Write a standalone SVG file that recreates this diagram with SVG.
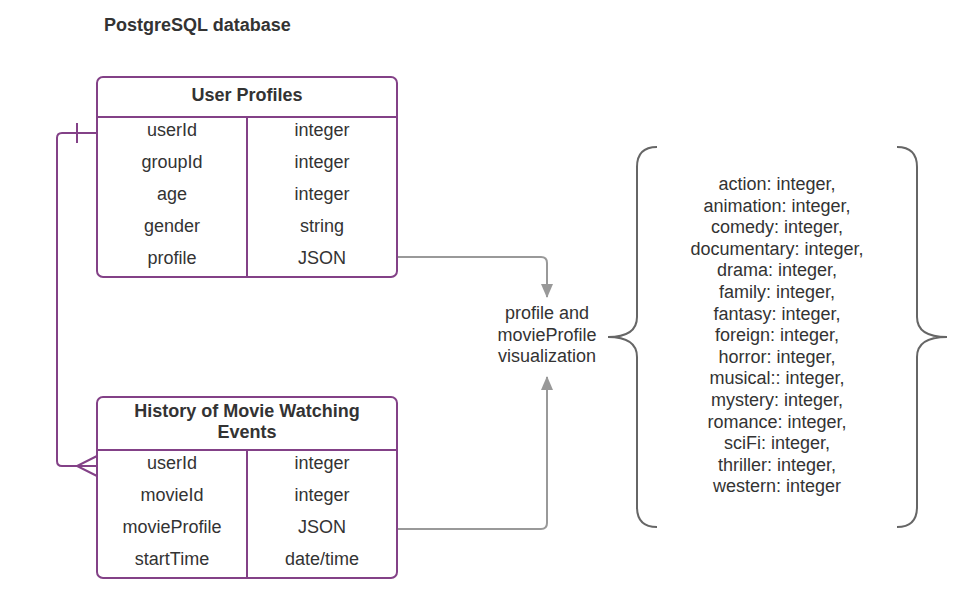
<svg xmlns="http://www.w3.org/2000/svg" width="973" height="603" viewBox="0 0 973 603">
<defs>
<style>
text{font-family:"Liberation Sans",Arial,sans-serif;fill:#333;font-size:18px;text-anchor:middle}
.b{font-weight:bold}
.t{fill:#fff;stroke:#834187;stroke-width:2}
.l{stroke:#834187;stroke-width:2;fill:none}
.g{stroke:#999;stroke-width:2;fill:none}
.br{stroke:#666;stroke-width:2;fill:none}
</style>
<marker id="ah" markerWidth="14" markerHeight="12" refX="13" refY="6" orient="auto" markerUnits="userSpaceOnUse">
<path d="M0,0 L14,6 L0,12 Z" fill="#999"/>
</marker>
</defs>
<rect width="973" height="603" fill="#fff"/>
<text class="b" x="104" y="31" style="text-anchor:start">PostgreSQL database</text>

<g id="connectors">
<path class="l" d="M97,133 H62 Q57,133 57,138 V461 Q57,466 62,466 H97"/>
<line class="l" x1="77" y1="123" x2="77" y2="143"/>
<path class="l" d="M97,456 L77,466 L97,476"/>
<path class="g" d="M397,257 H541 Q547,257 547,263 V297" marker-end="url(#ah)"/>
<path class="g" d="M397,529 H541 Q547,529 547,523 V377" marker-end="url(#ah)"/>
</g>

<g id="user-profiles">
<rect class="t" x="97" y="77" width="300" height="200" rx="6"/>
<line class="l" x1="97" y1="117" x2="397" y2="117"/>
<line class="l" x1="247" y1="117" x2="247" y2="277"/>
<text class="b" x="247" y="101">User Profiles</text>
<text x="172" y="136">userId</text><text x="322" y="136">integer</text>
<text x="172" y="168">groupId</text><text x="322" y="168">integer</text>
<text x="172" y="200">age</text><text x="322" y="200">integer</text>
<text x="172" y="232">gender</text><text x="322" y="232">string</text>
<text x="172" y="264">profile</text><text x="322" y="264">JSON</text>
</g>

<g id="history">
<rect class="t" x="97" y="397" width="300" height="181" rx="6"/>
<line class="l" x1="97" y1="450" x2="397" y2="450"/>
<line class="l" x1="247" y1="450" x2="247" y2="578"/>
<text class="b" x="247" y="417">History of Movie Watching</text>
<text class="b" x="247" y="438">Events</text>
<text x="172" y="469">userId</text><text x="322" y="469">integer</text>
<text x="172" y="501">movieId</text><text x="322" y="501">integer</text>
<text x="172" y="533">movieProfile</text><text x="322" y="533">JSON</text>
<text x="172" y="565">startTime</text><text x="322" y="565">date/time</text>
</g>

<g id="visualization">
<text x="547" y="319">profile and</text>
<text x="547" y="341">movieProfile</text>
<text x="547" y="362">visualization</text>
</g>

<g id="profile-fields">
<path class="br" d="M657,147 Q637,147 637,167 V317 Q637,337 608,337 Q637,337 637,357 V507 Q637,527 657,527"/>
<path class="br" d="M897,147 Q917,147 917,167 V317 Q917,337 947,337 Q917,337 917,357 V507 Q917,527 897,527"/>
<text x="777" y="190">action: integer,</text>
<text x="777" y="211.6">animation: integer,</text>
<text x="777" y="233.2">comedy: integer,</text>
<text x="777" y="254.8">documentary: integer,</text>
<text x="777" y="276.4">drama: integer,</text>
<text x="777" y="298">family: integer,</text>
<text x="777" y="319.6">fantasy: integer,</text>
<text x="777" y="341.2">foreign: integer,</text>
<text x="777" y="362.8">horror: integer,</text>
<text x="777" y="384.4">musical:: integer,</text>
<text x="777" y="406">mystery: integer,</text>
<text x="777" y="427.6">romance: integer,</text>
<text x="777" y="449.2">sciFi: integer,</text>
<text x="777" y="470.8">thriller: integer,</text>
<text x="777" y="492.4">western: integer</text>
</g>
</svg>
